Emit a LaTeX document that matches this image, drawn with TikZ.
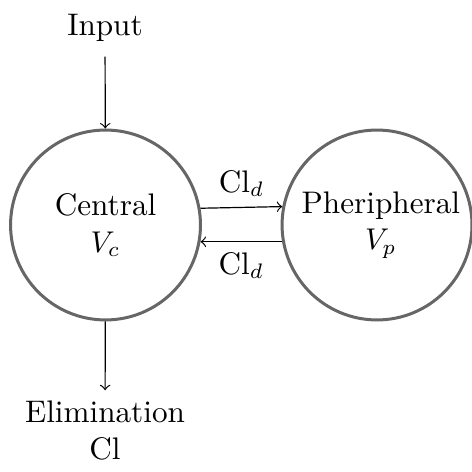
\documentclass[tikz,border=0pt]{standalone}
\usetikzlibrary{arrows}
\definecolor{circgray}{HTML}{666666}
\begin{document}
\begin{tikzpicture}[
  font=\fontsize{10.4}{12.3}\selectfont,
  comp/.style={circle,draw=circgray,line width=1pt,minimum size=63.3pt,align=center,inner sep=0pt},
  lbl/.style={align=center},
  flow/.style={->,line width=0.4pt}]
\useasboundingbox (0,0) rectangle (157.33pt,157pt);
\node[comp] (c) at (35.17pt,82pt) {Central\\$V_c$};
\node[comp] (p) at (125.67pt,82pt) {\hspace*{2.6pt}Pheripheral\\\hspace*{2.6pt}$V_p$};
\node[lbl] (in) at (35pt,147.7pt) {Input};
\node[lbl] (el) at (35pt,13.5pt) {Elimination\\Cl};
\draw[flow,shorten <=1.5pt] (in) -- (c);
\draw[flow] (c) -- (el);
\draw[flow] (c.10.3) -- node[above] {Cl$_d$} (p.169.7);
\draw[flow] (p.190.3) -- node[below] {Cl$_d$} (c.-10.3);
\end{tikzpicture}
\end{document}
